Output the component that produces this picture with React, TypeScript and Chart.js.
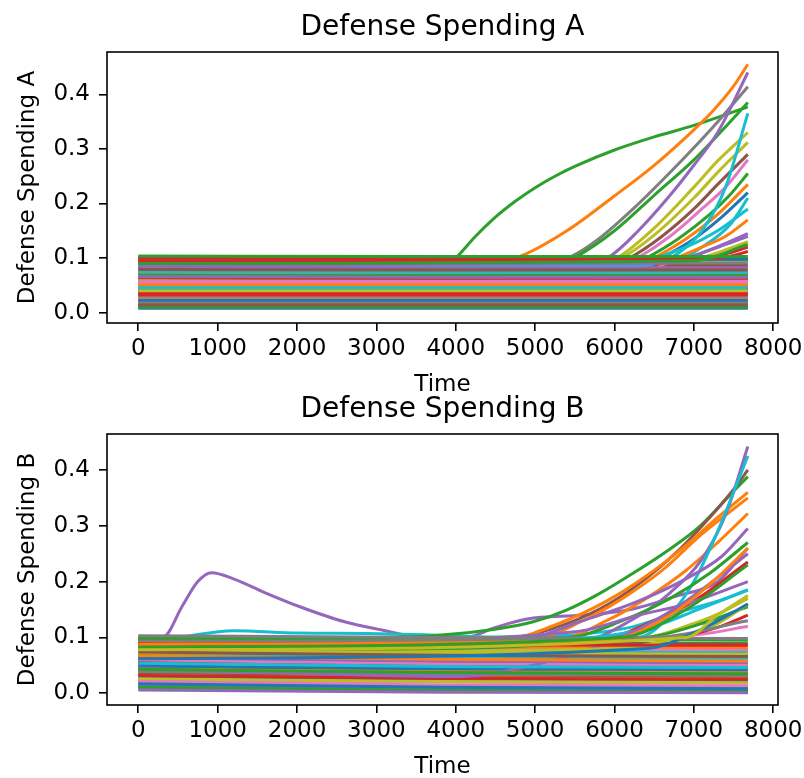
import React, { useEffect, useRef } from "react";
import { Chart, registerables } from "chart.js";

Chart.register(...registerables);

// matplotlib tab10 colour cycle
const TAB10 = ["#1f77b4", "#ff7f0e", "#2ca02c", "#d62728", "#9467bd", "#8c564b", "#e377c2", "#7f7f7f", "#bcbd22", "#17becf"];

const X_TICKS = [0, 1000, 2000, 3000, 4000, 5000, 6000, 7000, 8000];
const Y_TICKS = [0, 0.1, 0.2, 0.3, 0.4];

// times at which the flat "band" series are sampled
const BAND_T = [0, 3840, 7680];

// ---------- Defense Spending A ----------
const A_BAND_START = [0.097, 0.034, 0.062, 0.012, 0.073, 0.045, 0.090, 0.021, 0.081, 0.080, 0.008, 0.067, 0.038, 0.101, 0.049, 0.016, 0.085, 0.028, 0.059, 0.056, 0.042, 0.071, 0.010, 0.064, 0.031, 0.088, 0.053, 0.019, 0.094, 0.046, 0.099, 0.025, 0.069, 0.036, 0.083, 0.014, 0.057, 0.092, 0.040, 0.075, 0.023, 0.051, 0.104, 0.033, 0.066, 0.079];
const A_BAND_MID = [0.096, 0.034, 0.061, 0.012, 0.072, 0.045, 0.066, 0.021, 0.080, 0.067, 0.008, 0.066, 0.038, 0.100, 0.048, 0.016, 0.084, 0.028, 0.058, 0.056, 0.042, 0.070, 0.010, 0.063, 0.031, 0.087, 0.053, 0.019, 0.093, 0.046, 0.098, 0.025, 0.068, 0.036, 0.082, 0.014, 0.057, 0.091, 0.040, 0.074, 0.023, 0.051, 0.103, 0.033, 0.065, 0.078];
const A_BAND_END = [0.095, 0.034, 0.060, 0.012, 0.071, 0.045, 0.052, 0.021, 0.079, 0.062, 0.008, 0.066, 0.038, 0.099, 0.048, 0.016, 0.084, 0.028, 0.058, 0.056, 0.042, 0.070, 0.010, 0.063, 0.031, 0.087, 0.053, 0.019, 0.093, 0.046, 0.098, 0.025, 0.068, 0.036, 0.082, 0.014, 0.057, 0.091, 0.040, 0.074, 0.023, 0.051, 0.103, 0.033, 0.065, 0.078];

// rising series: [time, value] points
const A_RISERS: number[][][] = [
  [[0, 0.022], [2600, 0.025], [3127, 0.030], [3500, 0.050], [3821, 0.077], [4000, 0.100], [4250, 0.140], [4500, 0.175], [4750, 0.204], [5000, 0.229], [5250, 0.250], [5500, 0.268], [6000, 0.298], [6500, 0.322], [7000, 0.343], [7680, 0.377]],
  [[0, 0.100], [4700, 0.100], [4807, 0.103], [5400, 0.150], [5982, 0.212], [6500, 0.270], [7000, 0.335], [7242, 0.370], [7500, 0.415], [7680, 0.455]],
  [[0, 0.100], [5400, 0.100], [5458, 0.103], [5800, 0.135], [6234, 0.190], [6822, 0.275], [7242, 0.340], [7680, 0.414]],
  [[0, 0.098], [5450, 0.098], [5500, 0.101], [6000, 0.150], [6500, 0.215], [7000, 0.280], [7300, 0.325], [7680, 0.385]],
  [[0, 0.099], [5850, 0.099], [5950, 0.104], [6300, 0.150], [6700, 0.215], [7000, 0.270], [7300, 0.330], [7680, 0.440]],
  [[0, 0.097], [5950, 0.097], [6050, 0.102], [6500, 0.155], [7000, 0.230], [7300, 0.278], [7680, 0.330]],
  [[0, 0.096], [6000, 0.096], [6100, 0.101], [6500, 0.142], [7000, 0.210], [7300, 0.257], [7680, 0.312]],
  [[0, 0.095], [6100, 0.095], [6200, 0.101], [6600, 0.140], [7000, 0.190], [7300, 0.235], [7680, 0.290]],
  [[0, 0.094], [6200, 0.094], [6300, 0.101], [6700, 0.140], [7100, 0.190], [7400, 0.230], [7680, 0.280]],
  [[0, 0.093], [6300, 0.093], [6400, 0.100], [6800, 0.135], [7200, 0.180], [7450, 0.215], [7680, 0.255]],
  [[0, 0.092], [6400, 0.092], [6500, 0.100], [6900, 0.135], [7300, 0.180], [7680, 0.235]],
  [[0, 0.091], [6500, 0.091], [6600, 0.100], [7000, 0.135], [7350, 0.175], [7680, 0.220]],
  [[0, 0.085], [6200, 0.085], [6700, 0.100], [7100, 0.150], [7400, 0.230], [7680, 0.365]],
  [[0, 0.083], [6150, 0.083], [6400, 0.095], [6900, 0.120], [7300, 0.150], [7680, 0.190]],
  [[0, 0.089], [6700, 0.092], [7100, 0.120], [7450, 0.160], [7680, 0.210]],
  [[0, 0.080], [6450, 0.078], [6700, 0.095], [7100, 0.120], [7400, 0.140], [7680, 0.170]],
  [[0, 0.090], [6800, 0.095], [7200, 0.115], [7680, 0.145]],
  [[0, 0.088], [6900, 0.095], [7300, 0.110], [7680, 0.130]],
  [[0, 0.095], [7100, 0.100], [7400, 0.108], [7680, 0.120]],
  [[0, 0.087], [6600, 0.090], [7000, 0.105], [7400, 0.125], [7680, 0.140]],
  [[0, 0.100], [7300, 0.100], [7500, 0.105], [7680, 0.112]],
  [[0, 0.090], [7000, 0.095], [7680, 0.125]],
];
const A_RISER_COLORS = [2, 1, 7, 2, 4, 8, 8, 5, 6, 2, 1, 0, 9, 9, 9, 1, 4, 8, 3, 4, 3, 2];

// ---------- Defense Spending B ----------
const B_BAND_START = [0.052, 0.087, 0.095, 0.041, 0.030, 0.066, 0.024, 0.012, 0.072, 0.080, 0.058, 0.035, 0.091, 0.047, 0.019, 0.063, 0.083, 0.009, 0.069, 0.076, 0.028, 0.044, 0.098, 0.055, 0.015, 0.037, 0.060, 0.103, 0.026, 0.070, 0.049, 0.085, 0.011, 0.032, 0.064, 0.093, 0.021, 0.039, 0.078, 0.054, 0.017, 0.067, 0.043, 0.089, 0.006, 0.074];
const B_BAND_MID = [0.035, 0.080, 0.068, 0.036, 0.027, 0.060, 0.020, 0.006, 0.066, 0.075, 0.050, 0.031, 0.090, 0.040, 0.012, 0.055, 0.080, 0.004, 0.062, 0.071, 0.023, 0.039, 0.097, 0.048, 0.010, 0.033, 0.053, 0.100, 0.021, 0.064, 0.044, 0.083, 0.005, 0.027, 0.058, 0.090, 0.015, 0.034, 0.072, 0.048, 0.011, 0.061, 0.037, 0.087, 0.002, 0.068];
const B_BAND_END = [0.030, 0.077, 0.063, 0.034, 0.026, 0.057, 0.018, 0.004, 0.063, 0.073, 0.047, 0.029, 0.089, 0.037, 0.010, 0.051, 0.078, 0.002, 0.059, 0.069, 0.021, 0.037, 0.095, 0.045, 0.007, 0.031, 0.050, 0.098, 0.019, 0.061, 0.042, 0.082, 0.003, 0.025, 0.055, 0.088, 0.013, 0.032, 0.070, 0.046, 0.008, 0.058, 0.035, 0.086, 0.001, 0.066];

const B_RISERS: number[][][] = [
  [[0, 0.100], [315, 0.101], [550, 0.155], [750, 0.200], [924, 0.216], [1200, 0.205], [1600, 0.180], [2036, 0.155], [2600, 0.128], [3086, 0.113], [3548, 0.101], [4136, 0.101], [4500, 0.118], [4900, 0.133], [5600, 0.140], [6200, 0.150], [6800, 0.175], [7300, 0.200], [7680, 0.260]],
  [[0, 0.093], [500, 0.100], [1196, 0.112], [2000, 0.108], [2880, 0.107], [3600, 0.105], [4500, 0.101], [5500, 0.105], [6200, 0.118], [6800, 0.145], [7300, 0.165], [7680, 0.185]],
  [[0, 0.100], [3000, 0.100], [3700, 0.103], [4555, 0.116], [4975, 0.128], [5395, 0.149], [5815, 0.179], [6234, 0.215], [6654, 0.254], [7074, 0.299], [7494, 0.361], [7680, 0.388]],
  [[0, 0.097], [4600, 0.098], [5200, 0.115], [5800, 0.150], [6300, 0.195], [6800, 0.255], [7200, 0.315], [7500, 0.365], [7680, 0.400]],
  [[0, 0.099], [4700, 0.100], [5300, 0.125], [5900, 0.165], [6400, 0.210], [6900, 0.265], [7300, 0.315], [7680, 0.360]],
  [[0, 0.096], [5000, 0.098], [5600, 0.130], [6100, 0.170], [6600, 0.220], [7100, 0.285], [7680, 0.350]],
  [[0, 0.094], [5300, 0.097], [5900, 0.130], [6400, 0.170], [6900, 0.220], [7300, 0.270], [7680, 0.322]],
  [[0, 0.091], [5600, 0.095], [6200, 0.130], [6700, 0.180], [7100, 0.240], [7400, 0.320], [7680, 0.442]],
  [[0, 0.086], [6300, 0.100], [6700, 0.140], [7000, 0.200], [7300, 0.290], [7680, 0.425]],
  [[0, 0.092], [5400, 0.100], [6100, 0.130], [6700, 0.170], [7200, 0.215], [7680, 0.270]],
  [[0, 0.089], [4900, 0.100], [5600, 0.130], [6300, 0.165], [6900, 0.205], [7350, 0.245], [7680, 0.295]],
  [[0, 0.082], [5900, 0.100], [6500, 0.130], [7000, 0.165], [7680, 0.235]],
  [[0, 0.085], [5500, 0.110], [6300, 0.140], [6900, 0.160], [7680, 0.200]],
  [[0, 0.076], [6400, 0.100], [6900, 0.120], [7350, 0.145], [7680, 0.170]],
  [[0, 0.081], [5700, 0.100], [6500, 0.120], [7050, 0.150], [7680, 0.185]],
  [[0, 0.071], [6400, 0.100], [7100, 0.125], [7680, 0.155]],
  [[0, 0.090], [2500, 0.090], [5500, 0.090], [6500, 0.098], [7200, 0.108], [7680, 0.120]],
  [[0, 0.079], [6700, 0.100], [7300, 0.118], [7680, 0.140]],
  [[0, 0.045], [2000, 0.036], [4000, 0.030], [4800, 0.045], [5600, 0.075], [6300, 0.115], [6900, 0.165], [7680, 0.250]],
  [[0, 0.072], [6000, 0.080], [6800, 0.100], [7300, 0.125], [7680, 0.160]],
  [[0, 0.093], [6500, 0.100], [7680, 0.130]],
  [[0, 0.088], [5900, 0.095], [6700, 0.140], [7200, 0.195], [7680, 0.260]],
  [[0, 0.083], [6100, 0.100], [6900, 0.150], [7680, 0.230]],
  [[0, 0.062], [6400, 0.080], [7100, 0.115], [7680, 0.160]],
  [[0, 0.078], [6900, 0.100], [7300, 0.140], [7680, 0.175]],
];
const B_RISER_COLORS = [4, 9, 2, 5, 1, 1, 1, 4, 9, 2, 4, 3, 4, 8, 9, 2, 6, 3, 4, 8, 7, 1, 2, 0, 8];

const FONT = "DejaVu Sans";

function buildDatasets(start: number[], mid: number[], end: number[], risers: number[][][], riserColors: number[]) {
  const list: any[] = [];
  const line = (pts: { x: number; y: number }[], color: string) => ({
    data: pts,
    borderColor: color,
    backgroundColor: color,
    borderWidth: 3,
    pointRadius: 0,
    fill: false,
    cubicInterpolationMode: "monotone",
  });
  let r = 0;
  start.forEach((v, i) => {
    const vals = [v, mid[i], end[i]];
    list.push(line(BAND_T.map((t, k) => ({ x: t, y: vals[k] })), TAB10[i % 10]));
    if (i % 2 === 1 && r < risers.length) {
      list.push(line(risers[r].map((p) => ({ x: p[0], y: p[1] })), TAB10[riserColors[r]]));
      r++;
    }
  });
  while (r < risers.length) {
    list.push(line(risers[r].map((p) => ({ x: p[0], y: p[1] })), TAB10[riserColors[r]]));
    r++;
  }
  // Chart.js paints the first dataset on top; matplotlib paints the last on top
  return list.reverse();
}

const framePlugin = {
  id: "frame",
  afterDraw(chart: any, _args: any, opts: any) {
    const { ctx, chartArea } = chart;
    const { left, right, top, bottom } = chartArea;
    ctx.save();
    ctx.strokeStyle = "#000";
    ctx.lineWidth = 1.6;
    ctx.strokeRect(left, top, right - left, bottom - top);
    ctx.fillStyle = "#000";
    ctx.textAlign = "center";
    ctx.textBaseline = "alphabetic";
    ctx.font = `28px "${FONT}"`;
    ctx.fillText(opts.title, (left + right) / 2, top - 17);
    ctx.font = `23px "${FONT}"`;
    ctx.fillText(opts.xLabel, (left + right) / 2, bottom + 68);
    ctx.translate(33.5, (top + bottom) / 2);
    ctx.rotate(-Math.PI / 2);
    ctx.fillText(opts.yLabel, 0, 0);
    ctx.restore();
  },
};

function makeConfig(datasets: any[], yMin: number, yMax: number, padTop: number, xHeight: number, title: string, yLabel: string) {
  const tickFont = { family: FONT, size: 23 };
  const grid = { display: true, drawOnChartArea: false, drawTicks: true, tickLength: 8, color: "#000", lineWidth: 1.6 };
  return {
    type: "line" as const,
    data: { datasets },
    options: {
      animation: false as const,
      responsive: false,
      devicePixelRatio: 1,
      layout: { padding: { top: padTop, right: 26, bottom: 0, left: 0 } },
      plugins: {
        legend: { display: false },
        tooltip: { enabled: false },
        title: { display: false },
        frame: { title, xLabel: "Time", yLabel },
      },
      scales: {
        x: {
          type: "linear" as const,
          min: -394,
          max: 8060,
          grid,
          border: { display: false },
          ticks: { font: tickFont, color: "#000", padding: 4, autoSkip: false, maxRotation: 0, minRotation: 0, callback: (v: any) => String(v) },
          afterBuildTicks: (s: any) => { s.ticks = X_TICKS.map((v) => ({ value: v })); },
          afterFit: (s: any) => { s.height = xHeight; s.paddingLeft = 0; s.paddingRight = 0; },
        },
        y: {
          type: "linear" as const,
          min: yMin,
          max: yMax,
          grid,
          border: { display: false },
          ticks: { font: tickFont, color: "#000", padding: 9, callback: (v: any) => Number(v).toFixed(1) },
          afterBuildTicks: (s: any) => { s.ticks = Y_TICKS.map((v) => ({ value: v })); },
          afterFit: (s: any) => { s.width = 107; s.paddingTop = 0; s.paddingBottom = 0; },
        },
      },
    },
    plugins: [framePlugin],
  };
}

function Panel(props: { top: number; height: number; config: any }) {
  const ref = useRef<HTMLCanvasElement | null>(null);
  useEffect(() => {
    if (!ref.current) return;
    const chart = new Chart(ref.current, props.config);
    return () => chart.destroy();
  }, []);
  return (
    <div style={{ position: "absolute", left: 0, top: props.top, width: 804, height: props.height }}>
      <canvas ref={ref} width={804} height={props.height} style={{ display: "block" }} />
    </div>
  );
}

export default function App() {
  const dsA = buildDatasets(A_BAND_START, A_BAND_MID, A_BAND_END, A_RISERS, A_RISER_COLORS);
  const dsB = buildDatasets(B_BAND_START, B_BAND_MID, B_BAND_END, B_RISERS, B_RISER_COLORS);
  const cfgA = makeConfig(dsA, -0.0189, 0.4775, 52, 69, "Defense Spending A", "Defense Spending A");
  const cfgB = makeConfig(dsB, -0.021, 0.4644, 42, 73, "Defense Spending B", "Defense Spending B");
  return (
    <div style={{ position: "absolute", left: 0, top: 0, width: 804, height: 778, background: "#fff" }}>
      <Panel top={0} height={392} config={cfgA} />
      <Panel top={392} height={386} config={cfgB} />
    </div>
  );
}
